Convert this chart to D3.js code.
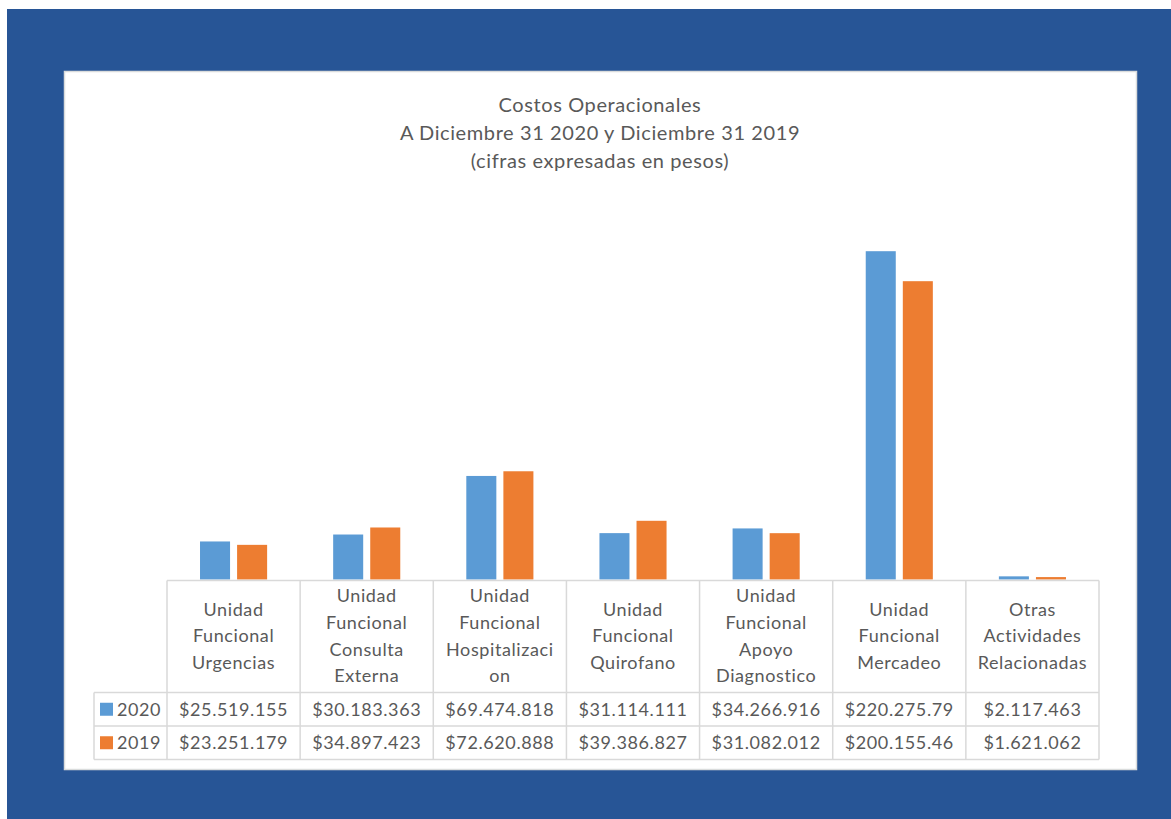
<!DOCTYPE html>
<html>
<head>
<meta charset="utf-8">
<script src="https://cdn.jsdelivr.net/npm/d3@7"></script>
<style>
  body { margin: 0; background: #fff; }
  svg { display: block; font-family: Lato, "Open Sans", sans-serif; }
  svg text { letter-spacing: 0.6px; }
</style>
</head>
<body>
<svg id="chart" width="1171" height="819"></svg>
<script>
// chart data
const categories = ["Urgencias", "Consulta Externa", "Hospitalizacion", "Quirofano",
    "Apoyo Diagnostico", "Mercadeo", "Otras Actividades Relacionadas"];
const categoryLines = [
    ["Unidad", "Funcional", "Urgencias"],
    ["Unidad", "Funcional", "Consulta", "Externa"],
    ["Unidad", "Funcional", "Hospitalizaci", "on"],
    ["Unidad", "Funcional", "Quirofano"],
    ["Unidad", "Funcional", "Apoyo", "Diagnostico"],
    ["Unidad", "Funcional", "Mercadeo"],
    ["Otras", "Actividades", "Relacionadas"]
];
const series = ["2020", "2019"];
const values2020 = [25519155, 30183363, 69474818, 31114111, 34266916, 220275790, 2117463];
const values2019 = [23251179, 34897423, 72620888, 39386827, 31082012, 200155460, 1621062];
const labels2020 = ["$25.519.155", "$30.183.363", "$69.474.818", "$31.114.111", "$34.266.916", "$220.275.79", "$2.117.463"];
const labels2019 = ["$23.251.179", "$34.897.423", "$72.620.888", "$39.386.827", "$31.082.012", "$200.155.46", "$1.621.062"];
const colors = ["#5b9bd5", "#ed7d31"];
const titleLines = ["Costos Operacionales", "A Diciembre 31 2020 y Diciembre 31 2019", "(cifras expresadas en pesos)"];

const svg = d3.select("#chart");
const textColor = "#595959";
const gridColor = "#d9d9d9";

// blue frame and white panel
svg.append("rect").attr("x", 7).attr("y", 9).attr("width", 1164).attr("height", 810).attr("fill", "#275596");
svg.append("rect").attr("x", 64.5).attr("y", 71.5).attr("width", 1072).attr("height", 698)
    .attr("fill", "#fff").attr("stroke", "#dadcdc").attr("stroke-width", 1.5);

// title
svg.append("g").selectAll("text")
    .data(titleLines)
    .enter().append("text")
    .attr("x", 600)
    .attr("y", (d, i) => 112 + i * 28)
    .attr("text-anchor", "middle")
    .attr("font-size", 20)
    .attr("fill", textColor)
    .text(d => d);

// scales
let tableLeft = 167, tableRight = 1099, baseY = 579.5;
let x0 = d3.scaleBand().domain(categories).range([tableLeft, tableRight]);
let bw = x0.bandwidth();
let x1 = d3.scaleBand().domain(series).range([bw * 0.248, bw * 0.752]).paddingInner(0.19);
let y = d3.scaleLinear().domain([0, 250000000]).range([baseY, baseY - 250 * 1.4904]);

let rows = categories.map((c, i) => ({cat: c, vals: [values2020[i], values2019[i]]}));

// bars
let groups = svg.append("g").selectAll("g")
    .data(rows)
    .enter().append("g")
    .attr("transform", d => `translate(${x0(d.cat)},0)`);

groups.selectAll("rect")
    .data(d => d.vals.map((v, j) => ({s: series[j], v: v, j: j})))
    .enter().append("rect")
    .attr("x", d => x1(d.s))
    .attr("y", d => y(d.v))
    .attr("width", x1.bandwidth())
    .attr("height", d => baseY - y(d.v))
    .attr("fill", d => colors[d.j]);

// data table
let headerBottom = 692.5, rowH = 33.5, legendLeft = 94;
let table = svg.append("g");
let lines = [];
// horizontal lines
lines.push([tableLeft, baseY + 1, tableRight, baseY + 1]);
lines.push([legendLeft, headerBottom, tableRight, headerBottom]);
lines.push([legendLeft, headerBottom + rowH, tableRight, headerBottom + rowH]);
lines.push([legendLeft, headerBottom + 2 * rowH, tableRight, headerBottom + 2 * rowH]);
// vertical lines
lines.push([legendLeft, headerBottom, legendLeft, headerBottom + 2 * rowH]);
categories.forEach(c => lines.push([x0(c), baseY + 1, x0(c), headerBottom + 2 * rowH]));
lines.push([tableRight, baseY + 1, tableRight, headerBottom + 2 * rowH]);

table.selectAll("line")
    .data(lines)
    .enter().append("line")
    .attr("x1", d => d[0]).attr("y1", d => d[1])
    .attr("x2", d => d[2]).attr("y2", d => d[3])
    .attr("stroke", gridColor).attr("stroke-width", 1.5);

// category headers
let headerMid = (baseY + headerBottom) / 2;
let lineH = 26.7;
table.selectAll("text.cat")
    .data(categories)
    .enter().append("text")
    .attr("class", "cat")
    .attr("text-anchor", "middle")
    .attr("font-size", 18)
    .attr("fill", textColor)
    .each(function (d, i) {
        let ls = categoryLines[i];
        let top = headerMid - (ls.length - 1) * lineH / 2;
        d3.select(this).selectAll("tspan")
            .data(ls)
            .enter().append("tspan")
            .attr("x", x0(d) + bw / 2)
            .attr("y", (t, k) => top + k * lineH)
            .attr("dy", "0.35em")
            .text(t => t);
    });

// value rows
[labels2020, labels2019].forEach((labels, j) => {
    let cy = headerBottom + rowH * j + rowH / 2;
    table.append("rect")
        .attr("x", 100).attr("y", cy - 6.5)
        .attr("width", 13).attr("height", 13)
        .attr("fill", colors[j]);
    table.append("text")
        .attr("x", 117).attr("y", cy).attr("dy", "0.35em")
        .attr("font-size", 18).attr("fill", textColor)
        .text(series[j]);
    table.selectAll("text.v" + j)
        .data(categories)
        .enter().append("text")
        .attr("class", "v" + j)
        .attr("x", d => x0(d) + bw / 2)
        .attr("y", cy).attr("dy", "0.35em")
        .attr("text-anchor", "middle")
        .attr("font-size", 18).attr("fill", textColor)
        .text((d, i) => labels[i]);
});
</script>
</body>
</html>
